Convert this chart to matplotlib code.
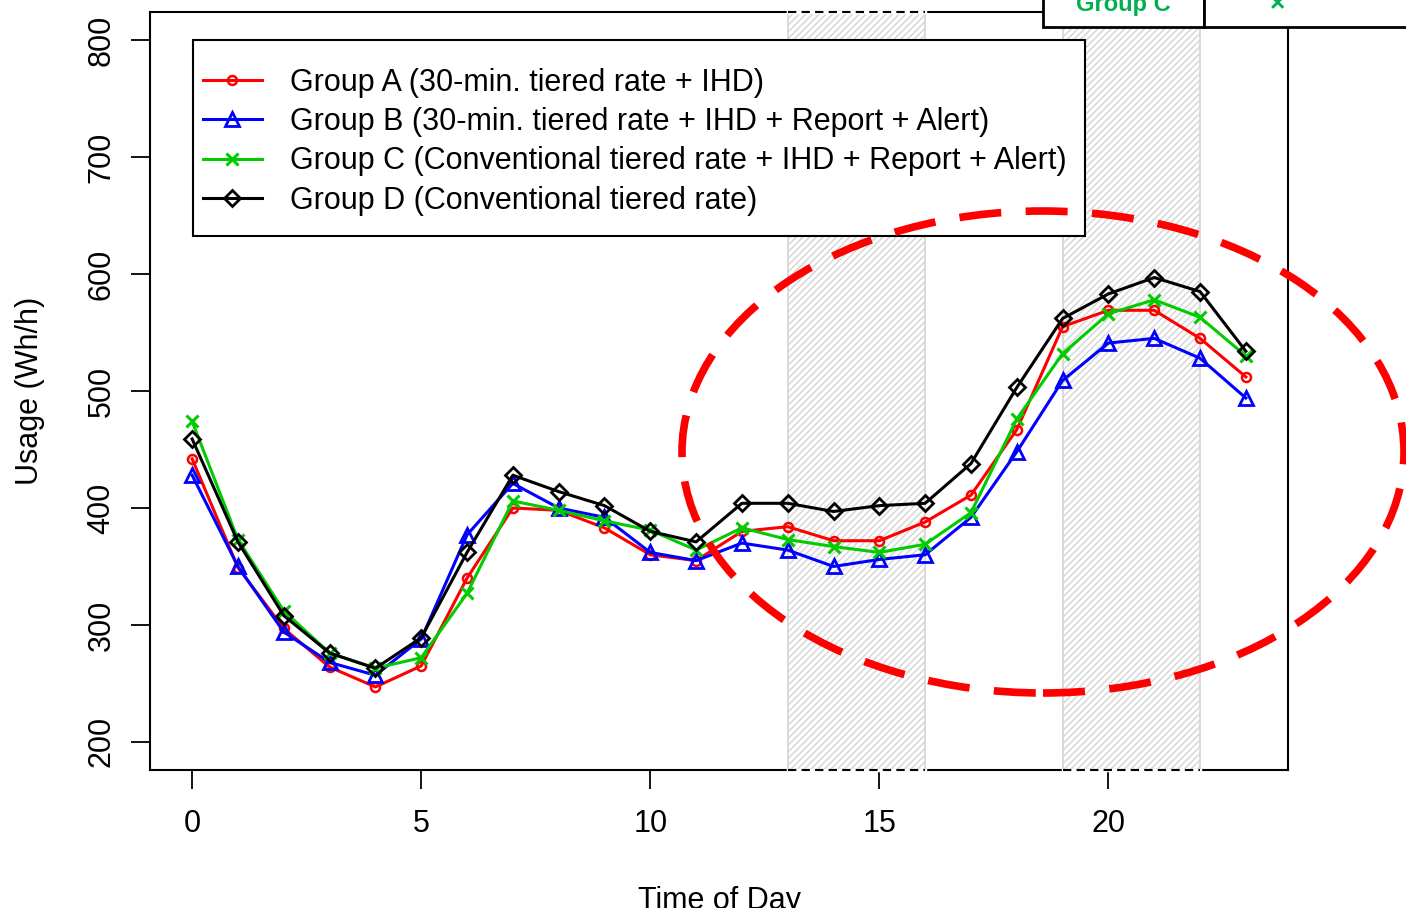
import numpy as np
import matplotlib
matplotlib.use("Agg")
import matplotlib.pyplot as plt
from matplotlib.patches import Ellipse, Rectangle

plt.rcParams['font.family'] = ['Liberation Sans', 'DejaVu Sans']
plt.rcParams['hatch.linewidth'] = 1.0

# Часы суток
hours = np.arange(24)

# Потребление по группам (Wh/h)
group_a = [442, 349, 297, 264, 247, 265, 340, 400, 398, 383, 360, 355,
           380, 384, 372, 372, 388, 411, 467, 555, 569, 569, 545, 512]
group_b = [428, 350, 294, 268, 257, 288, 377, 421, 400, 392, 362, 355,
           370, 364, 350, 356, 360, 392, 448, 509, 541, 545, 528, 494]
group_c = [474, 373, 312, 276, 263, 272, 327, 406, 398, 389, 381, 364,
           383, 373, 367, 362, 369, 396, 476, 532, 566, 578, 563, 530]
group_d = [459, 371, 308, 276, 263, 289, 362, 428, 414, 402, 380, 371,
           404, 404, 397, 402, 404, 438, 503, 562, 583, 597, 585, 534]

labels = ["Group A (30-min. tiered rate + IHD)",
          "Group B (30-min. tiered rate + IHD + Report + Alert)",
          "Group C (Conventional tiered rate + IHD + Report + Alert)",
          "Group D (Conventional tiered rate)"]

# Пиковые периоды
peaks = [(13, 16), (19, 22)]

W, H = 1406, 908
fs = 22
fig = plt.figure(figsize=(W / 100, H / 100), dpi=100)
ax = fig.add_axes([150 / W, (H - 770) / H, (1288 - 150) / W, (770 - 12) / H])

ax.set_xlim(-0.92, 23.92)
ax.set_ylim(176, 824)

for x0, x1 in peaks:
    ax.axvspan(x0, x1, facecolor='white', edgecolor='#d4d4d4',
               hatch='/////', linewidth=1.2, zorder=0)

lw = 2.2
ax.plot(hours, group_a, color='red', lw=lw, marker='o', ms=6.5,
        mfc='none', mew=1.8, label=labels[0], zorder=3)
ax.plot(hours, group_b, color='blue', lw=lw, marker='^', ms=10,
        mfc='none', mew=2, label=labels[1], zorder=3)
ax.plot(hours, group_c, color='#00cc00', lw=lw, marker='x', ms=9,
        mew=2.2, label=labels[2], zorder=3)
ax.plot(hours, group_d, color='black', lw=lw, marker='D', ms=8,
        mfc='none', mew=2, label=labels[3], zorder=4)

ax.set_xticks([0, 5, 10, 15, 20])
ax.set_yticks([200, 300, 400, 500, 600, 700, 800])
ax.tick_params(axis='both', labelsize=fs, length=14, width=1.3, direction='out')
ax.tick_params(axis='x', pad=14)
ax.tick_params(axis='y', pad=10)
for t in ax.get_yticklabels():
    t.set_rotation(90)
    t.set_va('center')
for s in ax.spines.values():
    s.set_linewidth(1.5)

ax.set_xlabel("Time of Day", fontsize=fs, labelpad=34)
ax.set_ylabel("Usage (Wh/h)", fontsize=fs, labelpad=30)

# Пунктир по краям пиковых зон
for x0, x1 in peaks:
    for yy in ax.get_ylim():
        ax.plot([x0, x1], [yy, yy], color='white', lw=2.5, clip_on=False, zorder=6)
        ax.plot([x0, x1], [yy, yy], color='black', lw=1.5, ls=(0, (4, 2.5)),
                clip_on=False, zorder=7)

# Рамка легенды (белая заливка поверх штриховки)
ax.add_patch(Rectangle((193 / W, (H - 236) / H), (1085 - 193) / W, 196 / H,
                       transform=fig.transFigure, facecolor='white',
                       edgecolor='black', lw=1.5, zorder=4.5))
leg = ax.legend(loc='upper left', bbox_to_anchor=((203 - 150) / 1138, (770 - 68) / 758),
                fontsize=fs, frameon=False, borderpad=0, labelspacing=0.30,
                handlelength=1.93, handletextpad=0.92, borderaxespad=0)
leg.set_zorder(6)

# Красный пунктирный овал
ell = Ellipse((1043 / W, (H - 452) / H), 722 / W, 482 / H,
              transform=fig.transFigure, fill=False, edgecolor='red',
              lw=5.5, ls=(0, (5.5, 3.2)), clip_on=False, zorder=10)
fig.add_artist(ell)

# Фрагмент таблицы в правом верхнем углу
for x0, x1 in [(1043, 1204), (1204, 1420)]:
    r = Rectangle((x0 / W, (H - 27) / H), (x1 - x0) / W, 40 / H,
                  transform=fig.transFigure, facecolor='white',
                  edgecolor='black', lw=2, clip_on=False, zorder=11)
    fig.add_artist(r)
fig.text(1123 / W, (H - 4) / H, "Group C", color='#00b050', fontsize=17,
         fontweight='bold', ha='center', va='center', zorder=12)
fig.text(1278 / W, (H - 4) / H, "×", color='#00b050', fontsize=19,
         fontweight='bold', ha='center', va='center', zorder=12)

plt.savefig("out.png", dpi=100)
